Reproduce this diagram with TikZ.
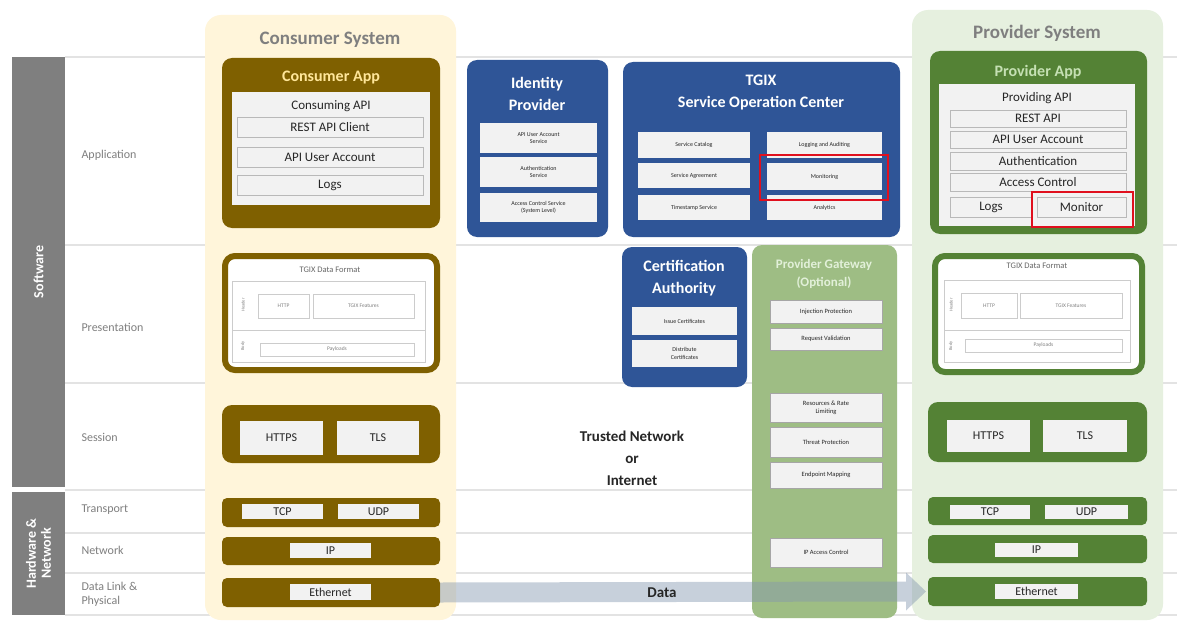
\documentclass[tikz,border=0pt]{standalone}
\usepackage{fontspec}
\setmainfont{Carlito}
\usepackage{tikz}
\usetikzlibrary{positioning}

\definecolor{bargray}{HTML}{7F7F7F}
\definecolor{linegray}{HTML}{E3E3E3}
\definecolor{conbg}{HTML}{FFF5DA}
\definecolor{conbrown}{HTML}{7F6000}
\definecolor{contitle}{HTML}{FFE699}
\definecolor{provbg}{HTML}{E6F0DF}
\definecolor{provgreen}{HTML}{548235}
\definecolor{provtitle}{HTML}{C5E0B3}
\definecolor{gwgreen}{HTML}{9EBD84}
\definecolor{gwtitle}{HTML}{E2F0D9}
\definecolor{tgixblue}{HTML}{2F5597}
\definecolor{itemgray}{HTML}{F2F2F2}
\definecolor{txtdark}{HTML}{262626}
\definecolor{hired}{HTML}{E0101E}
\definecolor{dataarrow}{HTML}{8497B0}

\tikzset{
  sz/.style 2 args={minimum width=#1pt,minimum height=#2pt},
  tl/.style={anchor=north west,inner sep=0pt,outer sep=0pt},
  layerbar/.style={tl,fill=bargray},
  bartxt/.style={text=white,font=\bfseries\fontsize{14}{15}\selectfont,rotate=90,align=center},
  layertxt/.style={anchor=west,text=bargray,font=\fontsize{12}{14}\selectfont,align=left},
  sysbg/.style={tl,rounded corners=16pt},
  systitle/.style={text=bargray,font=\bfseries\fontsize{19}{21}\selectfont},
  blk/.style={tl,rounded corners=10pt},
  bar/.style={tl,rounded corners=5pt},
  apptitle/.style={font=\bfseries\fontsize{16}{18}\selectfont},
  blktitle/.style={text=white,align=center,font=\bfseries\fontsize{16}{22}\selectfont},
  itm/.style={tl,fill=itemgray,draw=gray!55,line width=0.7pt,text=txtdark,align=center,font=\fontsize{13}{14}\selectfont},
  netitm/.style={itm,draw=none,font=\fontsize{12}{13}\selectfont},
  smallitm/.style={itm,draw=none,font=\fontsize{6}{7.5}\selectfont},
  gwitm/.style={itm,draw=gray!70,line width=0.5pt,font=\fontsize{6.5}{8}\selectfont},
  fmtbox/.style={tl,draw=gray!40,line width=0.5pt,text=gray,font=\fontsize{5.5}{6.5}\selectfont},
  fmtlbl/.style={text=gray,font=\fontsize{4.5}{5}\selectfont,rotate=90},
  fmttitle/.style={text=gray!80!black,font=\fontsize{8.5}{9}\selectfont},
  hilite/.style={tl,draw=hired,line width=2.2pt},
}

\begin{document}
\begin{tikzpicture}[x=1pt,y=-1pt]
  \useasboundingbox[fill=white] (0,0) rectangle (1177,623);
  \foreach \y in {57,245,383,490,533,573,615}
    \draw[linegray,line width=1.5pt] (65,\y) -- (1177,\y);

  \node[layerbar,sz={53}{430}] (swbar) at (12,57) {};
  \node[bartxt] (swtxt) at (swbar.center) {Software};
  \node[layerbar,sz={53}{123}] (hwbar) at (12,492) {};
  \node[bartxt] (hwtxt) at (hwbar.center) {Hardware \&\\Network};

  \node[layertxt] (lapp) at (78,155) {Application};
  \node[layertxt] (lpres) at (78,327) {Presentation};
  \node[layertxt] (lses) at (78,437) {Session};
  \node[layertxt] (ltra) at (78,510) {Transport};
  \node[layertxt] (lnet) at (78,550) {Network};
  \node[layertxt] (llink) at (78,594) {Data Link \&\\Physical};

  \node[sysbg,fill=conbg,sz={251}{605}] (consys) at (205,15) {};
  \node[systitle] (consystitle) at (330,40) {Consumer System};
  \node[blk,fill=conbrown,sz={218}{170}] (conapp) at (222,58) {};
  \node[apptitle,text=contitle] (conapptitle) at (331,78) {Consumer App};
  \node[tl,fill=itemgray,sz={198}{113}] (conpanel) at (232,92) {};
  \node[text=txtdark,font=\fontsize{13}{14}\selectfont] (conapi) at (331,106) {Consuming API};
  \node[itm,sz={186}{20}] (conrest) at (237,117) {REST API Client};
  \node[itm,sz={186}{20}] (conacct) at (237,147) {API User Account};
  \node[itm,sz={186}{20}] (conlogs) at (237,175) {Logs};

  \node[tl,fill=white,draw=conbrown,line width=6pt,rounded corners=10pt,sz={212}{114}] (conpres) at (225,256) {};
  \node[fmttitle] (confmt) at (330,270) {TGIX Data Format};
  \node[fmtbox,sz={193}{49}] (conhdr) at (232,281) {};
  \node[fmtbox,sz={193}{32}] (conbody) at (232,330) {};
  \node[fmtlbl] (conhdrlbl) at (243,305) {Header};
  \node[fmtlbl] (conbodylbl) at (243,346) {Body};
  \node[fmtbox,sz={51}{24}] (conhttp) at (258,294) {HTTP};
  \node[fmtbox,sz={101}{24}] (contgixf) at (313,294) {TGIX Features};
  \node[fmtbox,sz={154}{13}] (conpay) at (260,343) {Payloads};

  \node[blk,fill=conbrown,sz={218}{58}] (conses) at (222,405) {};
  \node[netitm,sz={83}{34}] (conhttps) at (240,421) {HTTPS};
  \node[netitm,sz={82}{34}] (contls) at (337,421) {TLS};
  \node[bar,fill=conbrown,sz={218}{29}] (contra) at (222,498) {};
  \node[netitm,sz={81}{15}] (contcp) at (242,504) {TCP};
  \node[netitm,sz={81}{15}] (conudp) at (338,504) {UDP};
  \node[bar,fill=conbrown,sz={218}{28}] (connet) at (222,537) {};
  \node[netitm,sz={81}{15}] (conip) at (290,543) {IP};
  \node[bar,fill=conbrown,sz={218}{29}] (conlink) at (222,578) {};
  \node[netitm,sz={81}{16}] (coneth) at (290,584) {Ethernet};

  \node[blk,fill=tgixblue,sz={141}{177}] (idp) at (467,60) {};
  \node[blktitle] (idptitle) at (537,94) {Identity\\Provider};
  \node[smallitm,sz={117}{30}] (idpacct) at (480,123) {API User Account\\Service};
  \node[smallitm,sz={117}{30}] (idpauth) at (480,157) {Authentication\\Service};
  \node[smallitm,sz={117}{29}] (idpacs) at (480,193) {Access Control Service\\(System Level)};

  \node[blk,fill=tgixblue,sz={277}{175}] (soc) at (623,62) {};
  \node[blktitle] (soctitle) at (761,93) {TGIX\\Service Operation Center};
  \node[smallitm,sz={112}{26}] (soccat) at (638,132) {Service Catalog};
  \node[smallitm,sz={112}{25}] (socagr) at (638,163) {Service Agreement};
  \node[smallitm,sz={112}{25}] (socts) at (638,195) {Timestamp Service};
  \node[smallitm,sz={115}{26}] (soclog) at (767,132) {Logging and Auditing};
  \node[smallitm,sz={115}{27}] (socmon) at (767,163) {Monitoring};
  \node[smallitm,sz={115}{25}] (socana) at (767,195) {Analytics};
  \node[hilite,sz={128}{45}] (socred) at (760,155) {};

  \node[blk,fill=tgixblue,sz={125}{140}] (ca) at (622,247) {};
  \node[blktitle] (catitle) at (684,278) {Certification\\Authority};
  \node[smallitm,sz={105}{28}] (caissue) at (632,307) {Issue Certificates};
  \node[smallitm,sz={105}{27}] (cadist) at (632,340) {Distribute\\Certificates};

  \node[blk,fill=gwgreen,sz={145}{373}] (gw) at (752,245) {};
  \node[blktitle,text=gwtitle,font=\bfseries\fontsize{13}{18}\selectfont] (gwtitle) at (824,274) {Provider Gateway\\(Optional)};
  \node[gwitm,sz={112}{23}] (gwinj) at (770,300) {Injection Protection};
  \node[gwitm,sz={112}{22}] (gwreq) at (770,328) {Request Validation};
  \node[gwitm,sz={112}{29}] (gwrate) at (770,393) {Resources \& Rate\\Limiting};
  \node[gwitm,sz={112}{30}] (gwthreat) at (770,427) {Threat Protection};
  \node[gwitm,sz={112}{26}] (gwmap) at (770,462) {Endpoint Mapping};
  \node[gwitm,sz={112}{29}] (gwip) at (770,538) {IP Access Control};

  \node[align=center,text=txtdark,font=\bfseries\fontsize{15}{22}\selectfont] (trusted) at (632,458) {Trusted Network\\or\\Internet};

  \node[sysbg,fill=provbg,sz={251}{610}] (provsys) at (912,10) {};
  \node[systitle] (provsystitle) at (1037,33) {Provider System};
  \node[blk,fill=provgreen,sz={217}{183}] (provapp) at (930,51) {};
  \node[apptitle,text=provtitle] (provapptitle) at (1038,72) {Provider App};
  \node[tl,fill=itemgray,sz={196}{142}] (provpanel) at (939,84) {};
  \node[text=txtdark,font=\fontsize{13}{14}\selectfont] (provapi) at (1037,98) {Providing API};
  \node[itm,sz={176}{17}] (provrest) at (950,110) {REST API};
  \node[itm,sz={176}{17}] (provacct) at (950,131) {API User Account};
  \node[itm,sz={176}{18}] (provauth) at (950,152) {Authentication};
  \node[itm,sz={176}{18}] (provac) at (950,173) {Access Control};
  \node[itm,sz={82}{20}] (provlogs) at (950,197) {Logs};
  \node[itm,sz={89}{20}] (provmon) at (1037,197) {Monitor};
  \node[hilite,sz={101}{35}] (provred) at (1032,192) {};

  \node[tl,fill=white,draw=provgreen,line width=6pt,rounded corners=10pt,sz={207}{116}] (provpres) at (935,256) {};
  \node[fmttitle] (provfmt) at (1037,266) {TGIX Data Format};
  \node[fmtbox,sz={186}{50}] (provhdr) at (944,280) {};
  \node[fmtbox,sz={186}{32}] (provbody) at (944,330) {};
  \node[fmtlbl] (provhdrlbl) at (951,305) {Header};
  \node[fmtlbl] (provbodylbl) at (951,346) {Body};
  \node[fmtbox,sz={56}{25}] (provhttp) at (961,293) {HTTP};
  \node[fmtbox,sz={102}{25}] (provtgixf) at (1020,293) {TGIX Features};
  \node[fmtbox,sz={157}{13}] (provpay) at (965,339) {Payloads};

  \node[blk,fill=provgreen,sz={219}{60}] (provses) at (928,402) {};
  \node[netitm,sz={83}{32}] (provhttps) at (947,420) {HTTPS};
  \node[netitm,sz={84}{32}] (provtls) at (1043,420) {TLS};
  \node[bar,fill=provgreen,sz={219}{28}] (provtra) at (928,497) {};
  \node[netitm,sz={80}{14}] (provtcp) at (950,505) {TCP};
  \node[netitm,sz={83}{14}] (provudp) at (1045,505) {UDP};
  \node[bar,fill=provgreen,sz={219}{28}] (provnet) at (928,535) {};
  \node[netitm,sz={83}{14}] (provip) at (995,543) {IP};
  \node[bar,fill=provgreen,sz={219}{29}] (provlink) at (928,577) {};
  \node[netitm,sz={83}{15}] (proveth) at (995,584) {Ethernet};

  \fill[dataarrow,fill opacity=0.45] ([yshift=10pt]conlink.east)
    -- ([xshift=-22pt,yshift=10pt]provlink.west) -- ([xshift=-22pt,yshift=19pt]provlink.west)
    -- ([xshift=-2pt]provlink.west) -- ([xshift=-22pt,yshift=-19pt]provlink.west)
    -- ([xshift=-22pt,yshift=-10pt]provlink.west) -- ([yshift=-10pt]conlink.east) -- cycle;
  \node[text=txtdark,font=\bfseries\fontsize{15}{16}\selectfont] (datatxt) at (662,593) {Data};
\end{tikzpicture}
\end{document}
